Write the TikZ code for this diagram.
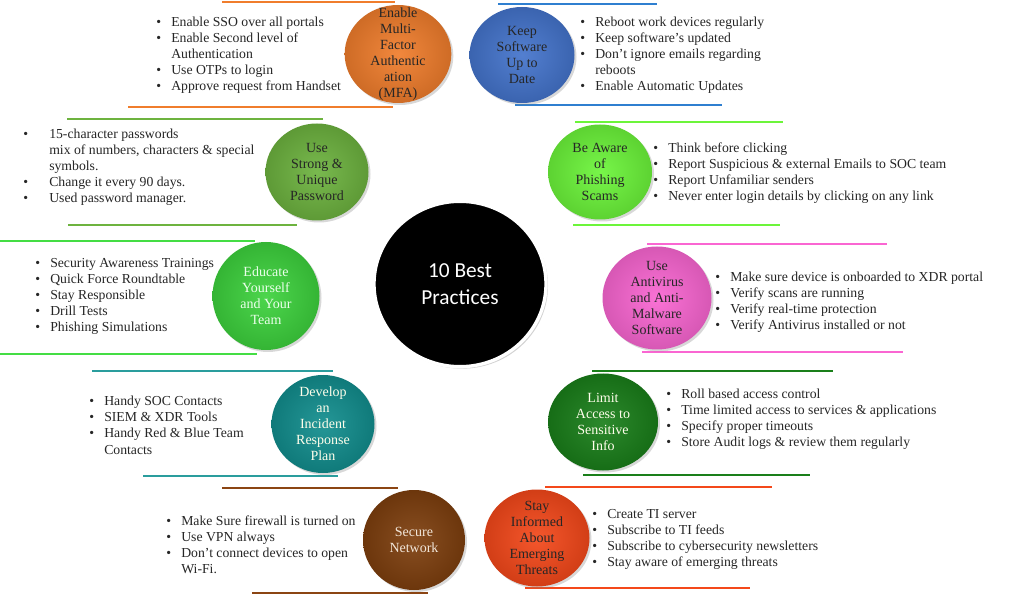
\documentclass[tikz,border=0pt]{standalone}
\usepackage{fontspec}
\setmainfont{Liberation Serif}
\newfontfamily\bpsans{Carlito}
\usetikzlibrary{shapes.geometric,shadows}
\definecolor{mfaorange}{HTML}{F07D2C}
\definecolor{swblue}{HTML}{4474CC}
\definecolor{pwgreen}{HTML}{6DB33F}
\definecolor{phlime}{HTML}{6CF53A}
\definecolor{edgreen}{HTML}{3DD23D}
\definecolor{avpink}{HTML}{FA66D2}
\definecolor{irteal}{HTML}{128E8E}
\definecolor{lagreen}{HTML}{1A7F1A}
\definecolor{snbrown}{HTML}{7E3F0E}
\definecolor{tired}{HTML}{F4481A}
\definecolor{swline}{HTML}{2F7FD0}
\definecolor{edline}{HTML}{44DD44}
\definecolor{irline}{HTML}{2A9D9D}
\definecolor{snline}{HTML}{8B4513}
\definecolor{snlabel}{HTML}{F2E6D9}
\newcommand{\bpitems}[2]{\begin{tabular}[t]{@{}p{#1}@{}l@{}}#2\end{tabular}}
\begin{document}
\begin{tikzpicture}[x=0.75pt,y=-0.75pt,
practice/.style={ellipse, inner sep=0pt, inner color=#1!92!white, outer color=#1!86!black,
  drop shadow={opacity=0.3, shadow xshift=1.5pt, shadow yshift=-1.5pt}},
bplabel/.style={align=center, inner sep=0pt, font=\fontsize{10.5}{12}\selectfont},
bplist/.style={anchor=base west, inner sep=0pt, text=black!85, font=\fontsize{10.3}{12}\selectfont},
bpline/.style={line width=1.5pt}]
\useasboundingbox (0,0) rectangle (1024,598);
\fill[white] (0,0) rectangle (1024,598);
\draw[bpline, mfaorange] (222,2) -- (395,2);
\draw[bpline, mfaorange] (128,107) -- (393,107);
\draw[bpline, swline] (498,4) -- (657,4);
\draw[bpline, swline] (515,105) -- (722,105);
\draw[bpline, pwgreen] (67,119) -- (323,119);
\draw[bpline, pwgreen] (68,225) -- (297,225);
\draw[bpline, phlime] (575,122) -- (783,122);
\draw[bpline, phlime] (573,225) -- (780,225);
\draw[bpline, edline] (0,241) -- (255,241);
\draw[bpline, edline] (0,354) -- (257,354);
\draw[bpline, avpink] (647,244) -- (887,244);
\draw[bpline, avpink] (642,352) -- (903,352);
\draw[bpline, irline] (92,371) -- (333,371);
\draw[bpline, irline] (143,476) -- (338,476);
\draw[bpline, lagreen] (592,371) -- (833,371);
\draw[bpline, lagreen] (583,475) -- (810,475);
\draw[bpline, snline] (222,488) -- (398,488);
\draw[bpline, snline] (252,593) -- (428,593);
\draw[bpline, tired] (545,487) -- (772,487);
\draw[bpline, tired] (525,588) -- (750,588);
\node[ellipse, fill=black, draw=white, line width=2.5pt, minimum width=129pt, minimum height=124pt,
  drop shadow={opacity=0.35, shadow xshift=1.5pt, shadow yshift=-1.5pt}] (bp0) at (460,284) {};
\node[text=white, align=center, font=\bpsans\fontsize{16}{20}\selectfont] (bp0txt) at (bp0) {10 Best\\Practices};
\node[practice=mfaorange, minimum width=80pt, minimum height=73.5pt] (bp1) at (398,54) {};
\node[bplabel, text=black!85] (bp1txt) at (bp1) {Enable\\Multi-\\Factor\\Authentic\\ation\\(MFA)};
\node[practice=swblue, minimum width=78.75pt, minimum height=72pt] (bp2) at (522,55) {};
\node[bplabel, text=black!85] (bp2txt) at (bp2) {Keep\\Software\\Up to\\Date};
\node[practice=pwgreen, minimum width=77.25pt, minimum height=72.75pt] (bp3) at (317,172) {};
\node[bplabel, text=black!85] (bp3txt) at (bp3) {Use\\Strong \&\\Unique\\Password};
\node[practice=phlime, minimum width=78pt, minimum height=71.25pt] (bp4) at (600,172) {};
\node[bplabel, text=black!85] (bp4txt) at (bp4) {Be Aware\\of\\Phishing\\Scams};
\node[practice=edgreen, minimum width=80.25pt, minimum height=81pt] (bp5) at (266,296) {};
\node[bplabel, text=white!92!green] (bp5txt) at (bp5) {Educate\\Yourself\\and Your\\Team};
\node[practice=avpink, minimum width=81.75pt, minimum height=77.25pt] (bp6) at (657,298) {};
\node[bplabel, text=black!85] (bp6txt) at (bp6) {Use\\Antivirus\\and Anti-\\Malware\\Software};
\node[practice=irteal, minimum width=77.25pt, minimum height=73.5pt] (bp7) at (323,424) {};
\node[bplabel, text=white!92!yellow] (bp7txt) at (bp7) {Develop\\an\\Incident\\Response\\Plan};
\node[practice=lagreen, minimum width=82.5pt, minimum height=72.75pt] (bp8) at (603,422) {};
\node[bplabel, text=white!92!yellow] (bp8txt) at (bp8) {Limit\\Access to\\Sensitive\\Info};
\node[practice=snbrown, minimum width=76.5pt, minimum height=75pt] (bp9) at (414,540) {};
\node[bplabel, text=snlabel] (bp9txt) at (bp9) {Secure\\Network};
\node[practice=tired, minimum width=78.75pt, minimum height=72.75pt] (bp10) at (537,538) {};
\node[bplabel, text=black!85] (bp10txt) at (bp10) {Stay\\Informed\\About\\Emerging\\Threats};
\node[bplist] (txt1) at (156,27) {\bpitems{11.25pt}{\textbullet & Enable SSO over all portals\\
\textbullet & Enable Second level of\\ & Authentication\\
\textbullet & Use OTPs to login\\
\textbullet & Approve request from Handset}};
\node[bplist] (txt2) at (580,27) {\bpitems{11.25pt}{\textbullet & Reboot work devices regularly\\
\textbullet & Keep software's updated\\
\textbullet & Don't ignore emails regarding\\ & reboots\\
\textbullet & Enable Automatic Updates}};
\node[bplist] (txt3) at (23,139) {\bpitems{19.5pt}{\textbullet & 15-character passwords\\
 & mix of numbers, characters \& special\\ & symbols.\\
\textbullet & Change it every 90 days.\\
\textbullet & Used password manager.}};
\node[bplist] (txt4) at (653,153) {\bpitems{11.25pt}{\textbullet & Think before clicking\\
\textbullet & Report Suspicious \& external Emails to SOC team\\
\textbullet & Report Unfamiliar senders\\
\textbullet & Never enter login details by clicking on any link}};
\node[bplist] (txt5) at (35,268) {\bpitems{11.25pt}{\textbullet & Security Awareness Trainings\\
\textbullet & Quick Force Roundtable\\
\textbullet & Stay Responsible\\
\textbullet & Drill Tests\\
\textbullet & Phishing Simulations}};
\node[bplist] (txt6) at (715,282) {\bpitems{11.25pt}{\textbullet & Make sure device is onboarded to XDR portal\\
\textbullet & Verify scans are running\\
\textbullet & Verify real-time protection\\
\textbullet & Verify Antivirus installed or not}};
\node[bplist] (txt7) at (89,406) {\bpitems{11.25pt}{\textbullet & Handy SOC Contacts\\
\textbullet & SIEM \& XDR Tools\\
\textbullet & Handy Red \& Blue Team\\ & Contacts}};
\node[bplist] (txt8) at (666,398) {\bpitems{11.25pt}{\textbullet & Roll based access control\\
\textbullet & Time limited access to services \& applications\\
\textbullet & Specify proper timeouts\\
\textbullet & Store Audit logs \& review them regularly}};
\node[bplist] (txt9) at (166,525) {\bpitems{11.25pt}{\textbullet & Make Sure firewall is turned on\\
\textbullet & Use VPN always\\
\textbullet & Don’t connect devices to open\\ & Wi-Fi.}};
\node[bplist] (txt10) at (592,518) {\bpitems{11.25pt}{\textbullet & Create TI server\\
\textbullet & Subscribe to TI feeds\\
\textbullet & Subscribe to cybersecurity newsletters\\
\textbullet & Stay aware of emerging threats}};
\end{tikzpicture}
\end{document}
